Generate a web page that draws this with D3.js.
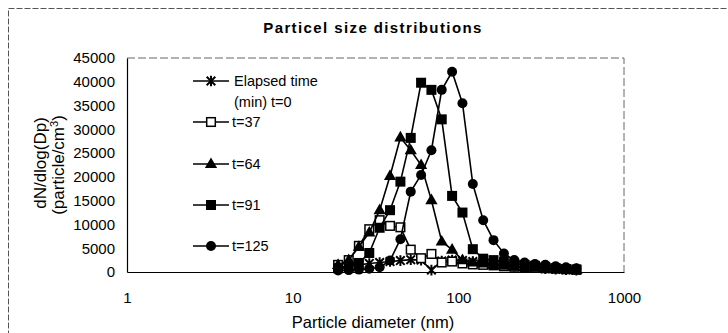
<!DOCTYPE html>
<html><head><meta charset="utf-8">
<script src="https://cdn.jsdelivr.net/npm/d3@7"></script>
<style>
html,body{margin:0;padding:0;background:#fff;}
text{font-family:"Liberation Sans",Arial,sans-serif;fill:#000;}
</style></head>
<body>
<svg id="chart" width="728" height="333"></svg>
<script>
const title = "Particel size distributions";
const xTitle = "Particle diameter (nm)";
const diameters = [18.8, 21.8, 25.1, 29.0, 33.5, 38.7, 44.7, 51.6, 59.6, 68.8, 79.4, 91.7, 105.9, 122.3, 141.3, 163.1, 188.4, 217.6, 251.2, 290.1, 335.0, 386.8, 446.7, 515.8];
const t0   = [1000, 1200, 1500, 1800, 2000, 2200, 2400, 2600, 2500, 400, 2300, 2500, 2400, 2200, 2000, 1700, 1500, 1200, 1000, 900, 700, 600, 500, 400];
const t37  = [1500, 2500, 5500, 9000, 10900, 9700, 9400, 4700, 2900, 3800, 2000, 2200, 1800, 1600, 1500, 1400, 1200, 1100, 1000, 900, 800, 700, 600, 500];
const t64  = [1500, 2500, 5300, 8300, 13000, 20200, 28300, 25600, 22500, 15100, 6400, 4700, 2500, 2000, 1800, 1500, 1300, 1100, 1000, 900, 800, 700, 600, 500];
const t91  = [800, 1000, 1900, 4000, 9300, 13000, 19000, 28200, 39800, 38300, 32100, 16000, 12500, 4800, 2800, 2500, 2200, 1800, 1500, 1300, 1000, 800, 600, 500];
const t125 = [300, 400, 500, 700, 1000, 2400, 6900, 16900, 20400, 25600, 38300, 42100, 35500, 18500, 10900, 6700, 3900, 2500, 2000, 1700, 1500, 1200, 1000, 800];
const seriesNames = ["t=0", "t=37", "t=64", "t=91", "t=125"];
const seriesMarkers = ["star", "openSquare", "triangle", "square", "circle"];
const yTicks = [0, 5000, 10000, 15000, 20000, 25000, 30000, 35000, 40000, 45000];
const xTicks = [1, 10, 100, 1000];
const legendLabels = [["Elapsed time", "(min) t=0"], ["t=37"], ["t=64"], ["t=91"], ["t=125"]];

const seriesValues = [t0, t37, t64, t91, t125];
const svg = d3.select("#chart");
const L = 127, R = 624, T = 58, B = 272;
const x = d3.scaleLog().domain([1, 1000]).range([L, R]);
const y = d3.scaleLinear().domain([0, 45000]).range([B, T]);

// outer frame
svg.append("rect").attr("x", 8.5).attr("y", 8.5).attr("width", 740).attr("height", 340)
  .attr("fill", "none").attr("stroke", "#555").attr("stroke-width", 1).attr("stroke-dasharray", "6,2");

// title
svg.append("text").attr("x", 373).attr("y", 33).attr("text-anchor", "middle")
  .style("font-size", "15px").style("font-weight", "bold").style("letter-spacing", "1.4px").text(title);

// plot border top/right (dashed light)
svg.append("path").attr("d", `M${L},${T}H${R}V${B}`).attr("fill", "none")
  .attr("stroke", "#666").attr("stroke-width", 1).attr("stroke-dasharray", "8,3");

const narrow = "'Liberation Sans Narrow','Liberation Sans',Arial,sans-serif";
// axes
const yAxis = d3.axisLeft(y).tickValues(yTicks).tickSize(0).tickPadding(12).tickFormat(d3.format("d"));
const gy = svg.append("g").attr("transform", `translate(${L},0)`).call(yAxis);
gy.select(".domain").attr("stroke", "#000").attr("stroke-width", 1.2);
gy.selectAll("text").style("font-family", narrow).style("font-size", "15px");

const xAxis = d3.axisBottom(x).tickValues(xTicks).tickSize(0).tickPadding(20).tickFormat(d3.format("d"));
const gx = svg.append("g").attr("transform", `translate(0,${B})`).call(xAxis);
gx.select(".domain").attr("stroke", "#000").attr("stroke-width", 1.2);
gx.selectAll("text").style("font-family", narrow).style("font-size", "15px");

// axis titles
svg.append("text").attr("x", 373).attr("y", 328).attr("text-anchor", "middle").style("font-size", "16.5px").text(xTitle);
const yt = svg.append("text").attr("transform", "translate(46,163) rotate(-90)").attr("text-anchor", "middle").style("font-size", "17px");
yt.append("tspan").attr("x", 0).attr("dy", 0).text("dN/dlog(Dp)");
const yt2 = svg.append("text").attr("transform", "translate(64,165) rotate(-90)").attr("text-anchor", "middle").style("font-size", "17px");
yt2.append("tspan").text("(particle/cm");
yt2.append("tspan").attr("dy", -6).style("font-size", "11px").text("3");
yt2.append("tspan").attr("dy", 6).text(")");

function drawMarker(g, type, cx, cy) {
  if (type === "circle") {
    g.append("circle").attr("cx", cx).attr("cy", cy).attr("r", 5).attr("fill", "#000");
  } else if (type === "square") {
    g.append("rect").attr("x", cx - 5).attr("y", cy - 5).attr("width", 10).attr("height", 10).attr("fill", "#000");
  } else if (type === "openSquare") {
    g.append("rect").attr("x", cx - 4.3).attr("y", cy - 4.3).attr("width", 8.6).attr("height", 8.6).attr("fill", "#fff").attr("stroke", "#000").attr("stroke-width", 1.5);
  } else if (type === "triangle") {
    g.append("path").attr("d", d3.symbol().type(d3.symbolTriangle).size(65)()).attr("transform", `translate(${cx},${cy + 0.5})`).attr("fill", "#000");
  } else if (type === "star") {
    const s = 4.3;
    g.append("path").attr("d", `M${cx - s},${cy - s}L${cx + s},${cy + s}M${cx - s},${cy + s}L${cx + s},${cy - s}M${cx},${cy - s - 1}L${cx},${cy + s + 1}`)
      .attr("stroke", "#000").attr("stroke-width", 2);
  }
}

const line = d3.line().x(d => x(d[0])).y(d => y(d[1]));
const plot = svg.append("g");
seriesValues.forEach((vals, i) => {
  const pts = diameters.map((d, j) => [d, vals[j]]);
  plot.append("path").datum(pts).attr("d", line).attr("fill", "none").attr("stroke", "#000").attr("stroke-width", 1.6);
  const mg = plot.append("g");
  pts.forEach(p => drawMarker(mg, seriesMarkers[i], x(p[0]), y(p[1])));
});

// legend
const legY = [81, 122, 164, 205, 246];
const lg = svg.append("g");
legendLabels.forEach((lab, i) => {
  const ly = legY[i];
  lg.append("line").attr("x1", 193).attr("x2", 229).attr("y1", ly).attr("y2", ly).attr("stroke", "#000").attr("stroke-width", 1.5);
  drawMarker(lg, seriesMarkers[i], 211, ly);
  lab.forEach((t, k) => {
    lg.append("text").attr("x", i === 0 ? 234 : 232).attr("y", ly + 5 + k * 21).style("font-size", "14.5px").text(t);
  });
});
</script>
</body></html>
